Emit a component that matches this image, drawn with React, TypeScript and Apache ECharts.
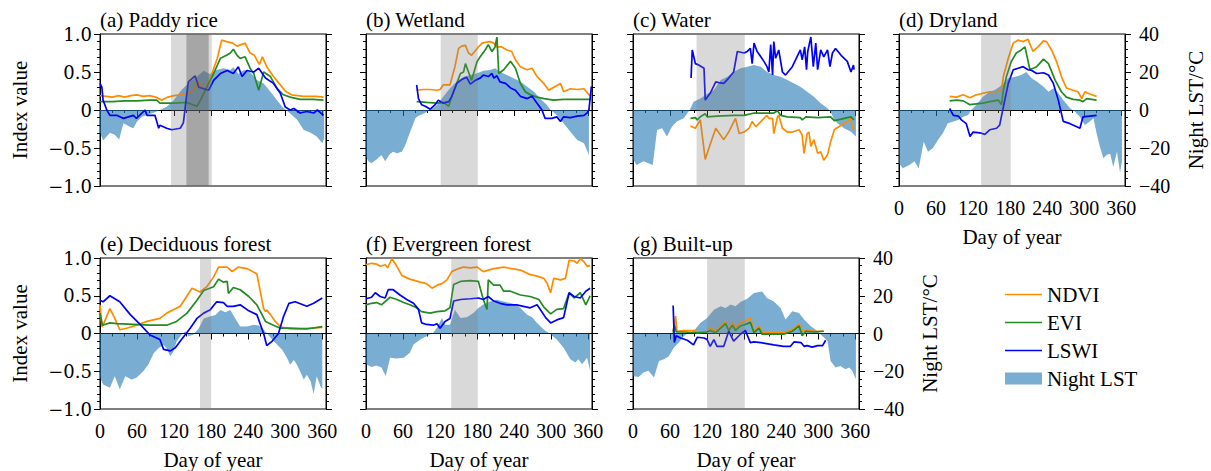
import React, { useEffect, useRef } from "react";
import * as echarts from "echarts";

// ---------- data (day of year, value) ----------
const paddyLst = [[0,-12],[5,-16],[16,-12],[24,-13],[31,-15.5],[38,-7],[49,-9],[54,-9.6],[60,-6],[68,-3.5],[76,-2.6],[87,-1.5],[97,0],[108,1.7],[119,5],[132,10.5],[146,15],[157,17.5],[168,20.7],[178,19],[189,21],[200,22],[211,21],[216,22.5],[224,19],[233,21],[243,20],[254,15.8],[265,14],[276,9.6],[287,5],[297,1],[308,-1.8],[319,-5],[330,-10.5],[341,-12],[351,-14],[360,-17.5],[363,-15]];
const paddyNdvi = [[0,0.19],[10,0.18],[20,0.17],[30,0.19],[40,0.17],[50,0.19],[60,0.2],[70,0.18],[80,0.19],[90,0.17],[100,0.13],[105,0.15],[110,0.17],[120,0.19],[130,0.2],[140,0.22],[150,0.25],[160,0.38],[165,0.3],[170,0.28],[180,0.45],[190,0.68],[197,0.92],[205,0.9],[215,0.88],[222,0.84],[235,0.88],[243,0.75],[250,0.72],[258,0.6],[263,0.7],[270,0.57],[280,0.45],[290,0.35],[300,0.25],[310,0.2],[330,0.18],[350,0.18],[362,0.17]];
const paddyEvi = [[0,0.11],[20,0.11],[40,0.12],[60,0.12],[80,0.13],[92,0.13],[97,0.09],[120,0.09],[140,0.1],[157,0.05],[162,0.12],[173,0.3],[184,0.48],[195,0.68],[205,0.72],[211,0.75],[216,0.8],[222,0.72],[227,0.68],[235,0.7],[243,0.55],[249,0.48],[257,0.26],[265,0.5],[276,0.44],[287,0.28],[297,0.2],[308,0.17],[324,0.14],[345,0.14],[362,0.13]];
const paddyLswi = [[0,0.35],[3,0.3],[5,0.13],[11,0],[16,-0.07],[27,-0.07],[38,-0.11],[46,-0.09],[54,-0.07],[59,-0.11],[73,0],[76,-0.07],[89,-0.07],[95,-0.24],[97,-0.2],[108,-0.24],[116,-0.26],[130,-0.24],[135,-0.17],[143,0.37],[154,0.45],[160,0.3],[168,0.28],[176,0.26],[184,0.39],[195,0.48],[206,0.52],[216,0.48],[224,0.57],[230,0.44],[238,0.52],[249,0.5],[257,0.55],[268,0.42],[281,0.35],[292,0.22],[300,0.04],[308,0],[314,0.02],[324,-0.04],[335,-0.02],[346,-0.04],[352,0],[362,-0.07]];
const paddyBands = [[115,181,0],[140,176,1]];

const wetlandLst = [[0,-24.6],[4,-27],[9,-28],[17,-26],[25,-23.7],[31,-27],[39,-23],[44,-22],[50,-22.8],[58,-22],[63,-19],[71,-12],[80,-4.4],[85,-3],[93,-2],[104,0],[115,2.6],[125,7],[136,11.4],[147,15],[158,17.5],[169,18.4],[180,19.3],[190,20.7],[201,21],[209,22],[217,20],[228,18.4],[239,16.7],[250,15],[261,12.3],[272,9.6],[282,6],[293,2.6],[299,0],[309,-2.6],[320,-7],[331,-11.4],[342,-15.8],[353,-17.5],[361,-23.7]];
const wetlandNdvi = [[82,0.26],[93,0.27],[104,0.27],[115,0.26],[120,0.27],[125,0.33],[136,0.33],[144,0.57],[150,0.81],[155,0.84],[161,0.85],[166,0.75],[171,0.72],[180,0.81],[188,0.88],[193,0.89],[201,0.9],[207,0.88],[212,0.83],[220,0.83],[228,0.79],[236,0.77],[242,0.66],[250,0.57],[261,0.53],[269,0.55],[277,0.44],[288,0.35],[296,0.26],[304,0.3],[315,0.35],[320,0.24],[331,0.28],[342,0.27],[353,0.28],[361,0.2],[365,0.18]];
const wetlandEvi = [[82,0.11],[98,0.1],[115,0.09],[125,0.1],[134,0.05],[139,0.18],[144,0.29],[153,0.48],[158,0.5],[161,0.61],[166,0.5],[171,0.39],[180,0.64],[185,0.7],[193,0.79],[198,0.86],[204,0.77],[209,0.83],[212,0.96],[215,0.48],[223,0.53],[234,0.64],[242,0.55],[250,0.35],[258,0.24],[266,0.2],[277,0.17],[288,0.15],[304,0.13],[320,0.14],[331,0.14],[353,0.14],[365,0.14]];
const wetlandLswi = [[82,0.33],[85,0.15],[90,0.07],[96,0.05],[104,0.01],[112,0.07],[117,0.13],[125,0.09],[134,0.11],[139,0.18],[147,0.35],[155,0.4],[163,0.43],[169,0.34],[177,0.39],[185,0.42],[190,0.46],[198,0.44],[204,0.48],[207,0.42],[212,0.45],[217,0.37],[226,0.35],[234,0.29],[242,0.26],[250,0.18],[261,0.15],[269,0.18],[277,0.09],[285,0],[290,-0.11],[301,-0.11],[309,-0.09],[315,-0.15],[320,-0.09],[331,-0.1],[342,-0.08],[353,-0.07],[358,-0.04],[361,0],[365,0.31]];
const wetlandBands = [[121,181,0]];

const waterLst = [[0,-26],[6,-29],[17,-27],[32,-29],[39,-10.5],[47,-9.6],[55,-14],[63,-8.8],[71,-6],[82,-4.4],[92,0],[98,4.4],[109,6],[120,8.4],[131,10.5],[142,15.8],[153,17.5],[163,20],[174,22],[185,22.8],[196,23.7],[207,22.8],[217,20],[228,18.4],[239,17.5],[250,15.8],[261,14],[271,12.3],[282,9.6],[293,7],[304,3.5],[315,0.9],[320,-0.9],[326,-5.3],[331,-7],[342,-9.6],[353,-11.4],[361,-14]];
const waterNdvi = [[93,-0.21],[101,-0.24],[109,-0.13],[117,-0.65],[123,-0.5],[134,-0.24],[147,-0.39],[155,-0.29],[166,-0.11],[172,-0.31],[180,-0.29],[188,-0.24],[193,-0.15],[199,-0.22],[212,-0.11],[217,-0.07],[220,-0.11],[226,-0.11],[228,-0.31],[234,-0.09],[236,-0.07],[242,-0.24],[250,-0.29],[258,-0.29],[269,-0.26],[274,-0.33],[277,-0.57],[282,-0.31],[285,-0.29],[288,-0.48],[293,-0.39],[299,-0.57],[304,-0.55],[309,-0.66],[315,-0.59],[320,-0.42],[326,-0.26],[337,-0.2],[347,-0.15],[353,-0.11],[355,-0.24],[358,-0.25]];
const waterEvi = [[93,-0.11],[101,-0.1],[104,-0.13],[109,-0.09],[117,-0.05],[120,-0.09],[136,-0.08],[163,-0.07],[180,-0.07],[196,-0.04],[217,-0.04],[228,-0.04],[234,-0.01],[239,-0.07],[250,-0.09],[271,-0.1],[274,-0.13],[280,-0.09],[299,-0.1],[320,-0.09],[326,-0.14],[337,-0.12],[347,-0.1],[353,-0.09],[358,-0.13]];
const waterLswi = [[94,0.42],[96,0.79],[101,0.61],[107,0.59],[115,0.55],[117,0.13],[125,0.22],[134,0.37],[139,0.36],[147,0.35],[155,0.42],[163,0.5],[169,0.77],[180,0.75],[185,0.77],[190,0.81],[193,0.61],[196,0.88],[201,0.77],[207,0.7],[212,0.64],[217,0.57],[220,0.5],[223,0.86],[226,0.46],[228,0.9],[231,0.68],[236,0.79],[242,0.5],[247,0.46],[258,0.57],[271,0.79],[274,0.66],[278,0.83],[281,0.53],[283,0.77],[288,0.96],[292,0.57],[296,0.88],[299,0.53],[304,0.79],[309,0.7],[315,0.79],[319,0.57],[323,0.75],[328,0.81],[337,0.72],[347,0.64],[353,0.5],[357,0.59],[358,0.53]];
const waterBands = [[103,181,0]];

const drylandLst = [[0,-28],[6,-30.7],[17,-29],[25,-27],[32,-30.7],[40,-16.7],[47,-22],[55,-20],[63,-15.8],[71,-12.3],[79,-7],[88,-6],[96,-5.3],[104,-3.5],[112,-2.6],[117,0],[125,2.6],[136,7],[147,9.6],[155,10.5],[163,12.3],[169,14],[177,16.7],[188,17.5],[198,18.4],[206,20],[215,16.7],[223,15],[234,12.3],[242,9.6],[250,11.4],[258,8.8],[266,5.3],[277,0.9],[285,-0.9],[293,-3.5],[301,-7.9],[309,-6],[315,-4.4],[320,-12.3],[325,-19],[331,-25.4],[336,-23.7],[342,-23],[347,-30],[353,-22],[358,-33],[361,-27]];
const drylandNdvi = [[82,0.18],[93,0.17],[104,0.2],[115,0.16],[125,0.2],[136,0.22],[147,0.24],[158,0.24],[166,0.26],[169,0.44],[177,0.68],[185,0.88],[193,0.92],[201,0.9],[209,0.93],[217,0.77],[225,0.83],[234,0.91],[239,0.9],[247,0.79],[255,0.64],[263,0.44],[271,0.29],[282,0.26],[290,0.24],[296,0.15],[301,0.24],[309,0.21],[320,0.18]];
const drylandEvi = [[82,0.12],[93,0.13],[104,0.12],[115,0.07],[125,0.08],[136,0.09],[147,0.11],[161,0.13],[166,0.07],[169,0.26],[174,0.44],[182,0.64],[190,0.75],[198,0.79],[204,0.83],[212,0.53],[223,0.57],[234,0.67],[242,0.61],[253,0.39],[263,0.24],[271,0.17],[282,0.14],[293,0.13],[298,0.11],[304,0.15],[320,0.13]];
const drylandLswi = [[82,0.02],[88,-0.07],[96,-0.08],[101,-0.13],[109,-0.18],[115,-0.35],[120,-0.29],[131,-0.3],[139,-0.32],[147,-0.26],[158,-0.24],[163,-0.2],[169,0.04],[177,0.35],[185,0.53],[193,0.55],[201,0.57],[209,0.53],[215,0.52],[223,0.48],[234,0.49],[242,0.46],[250,0.35],[258,0.13],[266,-0.15],[277,-0.18],[288,-0.22],[293,-0.24],[298,-0.09],[309,-0.08],[320,-0.07]];
const drylandBands = [[133,181,0]];

const decidLst = [[0,-23.5],[5,-27],[16,-28.8],[24,-22.6],[32,-29.6],[41,-22.6],[51,-24.4],[59,-23.5],[70,-20],[78,-16.5],[87,-10.4],[95,-7.7],[103,-6],[108,-8],[114,-12],[119,-9.5],[124,-4.2],[132,-0.7],[138,1],[143,-1.5],[151,-0.7],[160,2.8],[168,8],[178,9],[187,9.8],[195,12.5],[203,11.2],[211,12.5],[219,8],[227,3.7],[238,3.7],[249,4.6],[257,4.2],[265,2],[270,0.2],[279,-3.3],[287,-6],[295,-8.6],[303,-13],[308,-16.5],[314,-14],[319,-16.5],[324,-20],[330,-24.4],[335,-21.8],[341,-25.3],[346,-32],[351,-22.6],[357,-28],[360,-29.6]];
const decidNdvi = [[0,0.38],[3,0.09],[5,0.11],[16,0.33],[24,0.2],[32,0.05],[43,0.07],[59,0.11],[76,0.16],[97,0.2],[108,0.27],[130,0.36],[149,0.6],[162,0.55],[173,0.62],[184,0.75],[192,0.88],[206,0.88],[214,0.82],[224,0.88],[238,0.86],[254,0.79],[265,0.33],[268,0.29],[270,0.31],[276,0.25],[284,0.16],[292,0.09],[308,0.06],[324,0.06],[341,0.07],[360,0.08]];
const decidEvi = [[0,0.27],[4,0.11],[8,0.12],[16,0.14],[27,0.13],[54,0.12],[81,0.11],[108,0.11],[124,0.16],[141,0.27],[157,0.44],[168,0.57],[184,0.62],[192,0.72],[200,0.68],[206,0.69],[208,0.53],[216,0.61],[227,0.58],[241,0.49],[254,0.38],[268,0.16],[281,0.11],[292,0.07],[308,0.07],[335,0.06],[360,0.09]];
const decidLswi = [[0,0.44],[5,0.42],[16,0.5],[32,0.42],[49,0.25],[65,0.12],[81,-0.02],[97,-0.08],[103,-0.21],[114,-0.23],[122,-0.19],[132,-0.08],[146,0.07],[157,0.2],[168,0.27],[178,0.31],[189,0.42],[200,0.41],[206,0.36],[216,0.36],[227,0.38],[241,0.3],[254,0.25],[265,0],[270,-0.16],[279,-0.1],[289,0],[297,0.22],[306,0.4],[316,0.42],[335,0.36],[346,0.4],[360,0.47]];
const decidBands = [[162,180,0]];

const evergLst = [[0,-16.3],[9,-17.7],[17,-17],[25,-18],[32,-22.5],[39,-12.8],[50,-13.3],[61,-12.8],[71,-10.2],[77,-5.8],[88,-3.2],[98,-1.4],[109,0.4],[115,3],[123,8.2],[128,4.7],[136,4.7],[144,12.6],[153,8.2],[163,8.6],[174,10.9],[182,13.5],[190,15.3],[201,17],[212,17.9],[223,17],[234,16.1],[242,15.3],[250,13.5],[261,10],[269,8.6],[277,5.6],[288,2.1],[299,-0.5],[309,-3.2],[320,-7.5],[331,-13.7],[339,-15.4],[344,-13.7],[350,-16.3],[358,-12.8],[363,-19.8]];
const evergNdvi = [[0,0.91],[9,0.93],[17,0.92],[23,0.89],[31,0.91],[35,0.87],[42,0.99],[50,0.89],[58,0.77],[71,0.72],[88,0.68],[98,0.66],[107,0.6],[115,0.64],[123,0.66],[131,0.71],[139,0.82],[150,0.86],[158,0.88],[169,0.87],[180,0.88],[190,0.82],[198,0.84],[207,0.86],[223,0.88],[236,0.86],[250,0.84],[266,0.78],[277,0.76],[288,0.73],[293,0.67],[299,0.54],[304,0.73],[315,0.71],[323,0.73],[329,0.97],[337,0.96],[342,0.93],[347,0.99],[353,0.95],[358,0.89],[363,0.9]];
const evergEvi = [[0,0.38],[9,0.4],[17,0.41],[25,0.38],[39,0.48],[50,0.45],[61,0.41],[71,0.38],[82,0.34],[90,0.29],[104,0.27],[115,0.29],[128,0.3],[136,0.34],[142,0.65],[153,0.69],[169,0.7],[182,0.69],[190,0.45],[196,0.32],[198,0.71],[207,0.64],[217,0.64],[223,0.56],[234,0.56],[250,0.51],[266,0.49],[280,0.45],[288,0.35],[299,0.26],[309,0.32],[320,0.33],[329,0.54],[337,0.47],[347,0.54],[356,0.38],[363,0.5]];
const evergLswi = [[0,0.46],[9,0.48],[15,0.54],[23,0.49],[31,0.47],[36,0.58],[44,0.58],[55,0.51],[66,0.45],[77,0.4],[85,0.32],[90,0.14],[98,0.12],[109,0.11],[115,0.13],[120,0.07],[128,0.16],[136,0.2],[142,0.43],[153,0.45],[169,0.46],[182,0.47],[190,0.45],[198,0.49],[207,0.43],[217,0.4],[228,0.38],[244,0.38],[255,0.36],[266,0.34],[277,0.38],[282,0.32],[291,0.21],[299,0.14],[309,0.18],[320,0.21],[329,0.54],[337,0.49],[347,0.47],[356,0.56],[363,0.6]];
const evergBands = [[138,181,0]];

const builtLst = [[0,-22.5],[9,-23],[17,-20.7],[25,-19.8],[34,-23.3],[42,-14.6],[50,-13.7],[58,-12],[66,-7.5],[74,-4.9],[82,-1.4],[90,0.4],[98,1.2],[109,5.6],[120,8.2],[131,12.6],[142,14.4],[150,13.5],[158,15.3],[166,14.4],[174,16.7],[185,18.4],[196,21.4],[209,22.3],[217,18.8],[228,17],[239,13.5],[247,7.4],[258,11.8],[269,10.9],[277,7.4],[288,3.9],[299,1.2],[307,-1.4],[315,-4],[320,-14.6],[328,-18],[336,-17.2],[344,-19],[350,-18],[355,-19.8],[361,-24.2]];
const builtNdvi = [[65,0.03],[69,0.23],[71,0.03],[82,0.04],[101,0.04],[104,0.01],[120,0.02],[125,0.08],[134,0.02],[142,0.1],[150,0.16],[155,0.05],[161,0.14],[166,0.07],[174,0.14],[185,0.18],[190,0.21],[196,0.02],[204,0.1],[209,0.01],[244,0.01],[258,0.05],[269,0.12],[274,0.03],[280,0.05],[293,0.03],[309,0.03]];
const builtEvi = [[65,0.01],[67,0.12],[70,0.02],[82,0.02],[104,0.01],[120,0.02],[125,0.04],[134,0.01],[142,0.07],[150,0.13],[155,0.04],[161,0.11],[166,0.04],[174,0.1],[185,0.13],[190,0.15],[196,0.01],[204,0.07],[209,-0.01],[244,-0.01],[258,0.03],[269,0.1],[274,-0.03],[280,0.03],[293,0.02],[309,0.03]];
const builtLswi = [[65,0.37],[67,-0.12],[70,-0.03],[77,-0.06],[88,-0.09],[98,-0.15],[104,-0.05],[115,-0.06],[120,-0.08],[125,-0.17],[131,-0.08],[136,-0.17],[147,-0.17],[155,0.03],[163,-0.1],[174,-0.01],[182,0.04],[190,-0.12],[196,-0.11],[207,-0.12],[228,-0.15],[244,-0.17],[255,-0.17],[261,-0.11],[272,-0.12],[277,-0.17],[282,-0.16],[290,-0.18],[299,-0.16],[307,-0.16],[312,-0.09]];
const builtBands = [[120,181,0]];

const titles = ["(a) Paddy rice", "(b) Wetland", "(c) Water", "(d) Dryland", "(e) Deciduous forest", "(f) Evergreen forest", "(g) Built-up"];
const seriesNames = ["NDVI", "EVI", "LSWI", "Night LST"];

// ---------- styling / layout ----------
const FONT = "'Liberation Serif', 'Times New Roman', serif";
const FONT_Y = "'DejaVu Serif', serif";
const C_NDVI = "#ff8c00";
const C_EVI = "#228b22";
const C_LSWI = "#0000ff";
const C_LST = "rgba(31,119,180,0.6)";
const BAND_LIGHT = "rgba(128,128,128,0.3)";
const BAND_DARK = "rgba(90,90,90,0.4)";
const LINE_ICON = "path://M0,0L40,0L40,1.8L0,1.8Z";

const panels = [
  { lst: paddyLst, ndvi: paddyNdvi, evi: paddyEvi, lswi: paddyLswi, bands: paddyBands, left: 100, top: 34, yl: true, yr: false, xl: false },
  { lst: wetlandLst, ndvi: wetlandNdvi, evi: wetlandEvi, lswi: wetlandLswi, bands: wetlandBands, left: 366, top: 34, yl: false, yr: false, xl: false },
  { lst: waterLst, ndvi: waterNdvi, evi: waterEvi, lswi: waterLswi, bands: waterBands, left: 633, top: 34, yl: false, yr: false, xl: false },
  { lst: drylandLst, ndvi: drylandNdvi, evi: drylandEvi, lswi: drylandLswi, bands: drylandBands, left: 899, top: 34, yl: false, yr: true, xl: true },
  { lst: decidLst, ndvi: decidNdvi, evi: decidEvi, lswi: decidLswi, bands: decidBands, left: 100, top: 258, yl: true, yr: false, xl: true },
  { lst: evergLst, ndvi: evergNdvi, evi: evergEvi, lswi: evergLswi, bands: evergBands, left: 366, top: 258, yl: false, yr: false, xl: true },
  { lst: builtLst, ndvi: builtNdvi, evi: builtEvi, lswi: builtLswi, bands: builtBands, left: 633, top: 258, yl: false, yr: true, xl: true },
];

const W = 226;
const H = 152;

const minus = (s: string) => s.replace("-", "\u2212");

function buildOption() {
  const grid: any[] = [];
  const xAxis: any[] = [];
  const yAxis: any[] = [];
  const series: any[] = [];
  const title: any[] = [];
  const txt = { fontFamily: FONT, color: "#000" };
  panels.forEach((p, i) => {
    grid.push({ left: p.left, top: p.top, width: W, height: H, show: true, borderColor: "#000", borderWidth: 1, backgroundColor: "transparent" });
    title.push({ text: titles[i], left: p.left, top: p.top - 25, padding: 0, textStyle: { ...txt, fontSize: 21, fontWeight: "normal" } });
    xAxis.push({
      gridIndex: i, type: "value", min: 0, max: 366, interval: 60,
      axisLine: { show: true, lineStyle: { color: "#000", width: 1 } },
      axisTick: { show: true, length: 6, lineStyle: { color: "#000" } },
      minorTick: { show: true, splitNumber: 3, length: 3, lineStyle: { color: "#000" } },
      splitLine: { show: false },
      axisLabel: { show: p.xl, ...txt, fontSize: 20, margin: 12, showMaxLabel: false, formatter: (v: number) => (v % 60 === 0 ? String(v) : "") },
      name: p.xl ? "Day of year" : "", nameLocation: "middle", nameGap: 40,
      nameTextStyle: { ...txt, fontSize: 21 },
    });
    yAxis.push({
      gridIndex: i, type: "value", min: -1, max: 1, interval: 0.5, position: "left",
      axisLine: { show: true, onZero: false, lineStyle: { color: "#000", width: 1 } },
      axisTick: { show: true, length: 6, lineStyle: { color: "#000" } },
      minorTick: { show: true, splitNumber: 5, length: 3, lineStyle: { color: "#000" } },
      splitLine: { show: false },
      axisLabel: { show: p.yl, fontFamily: FONT_Y, color: "#000", fontSize: 18, margin: 8, formatter: (v: number) => (v === 0 ? "0" : minus(v.toFixed(1))) },
      name: p.yl ? "Index value" : "", nameLocation: "middle", nameRotate: 90, nameGap: 70,
      nameTextStyle: { ...txt, fontSize: 21 },
    });
    yAxis.push({
      gridIndex: i, type: "value", min: -40, max: 40, interval: 20, position: "right",
      axisLine: { show: true, onZero: false, lineStyle: { color: "#000", width: 1 } },
      axisTick: { show: true, length: 6, lineStyle: { color: "#000" } },
      minorTick: { show: true, splitNumber: 5, length: 3, lineStyle: { color: "#000" } },
      splitLine: { show: false },
      axisLabel: { show: p.yr, ...txt, fontSize: 20, margin: 14, formatter: (v: number) => minus(String(v)) },
      name: p.yr ? "Night LST/\u00B0C" : "", nameLocation: "middle", nameRotate: 90, nameGap: 60,
      nameTextStyle: { ...txt, fontSize: 21 },
    });
    series.push({
      type: "line", name: seriesNames[3], xAxisIndex: i, yAxisIndex: 2 * i + 1, data: p.lst,
      symbol: "none", showSymbol: false, lineStyle: { width: 0 }, itemStyle: { color: C_LST },
      areaStyle: { color: C_LST, opacity: 1 }, z: 1, silent: true,
    });
    const lines: [string, number[][], string][] = [[seriesNames[0], p.ndvi, C_NDVI], [seriesNames[1], p.evi, C_EVI], [seriesNames[2], p.lswi, C_LSWI]];
    lines.forEach(([name, data, color]) => {
      series.push({
        type: "line", name, xAxisIndex: i, yAxisIndex: 2 * i, data,
        symbol: "none", showSymbol: false, lineStyle: { width: 1.7, color }, itemStyle: { color }, z: 3, silent: true,
      });
    });
    series.push({
      type: "custom", xAxisIndex: i, yAxisIndex: 2 * i, data: p.bands, z: 5, silent: true,
      renderItem: (params: any, api: any) => {
        const a = api.coord([api.value(0), 1]);
        const b = api.coord([api.value(1), -1]);
        return {
          type: "rect",
          shape: { x: a[0], y: a[1], width: b[0] - a[0], height: b[1] - a[1] },
          style: { fill: api.value(2) === 1 ? BAND_DARK : BAND_LIGHT },
        };
      },
    });
  });
  return {
    animation: false,
    backgroundColor: "#fff",
    textStyle: { fontFamily: FONT },
    title,
    grid,
    xAxis,
    yAxis,
    series,
    legend: {
      data: [
        { name: "NDVI", icon: LINE_ICON },
        { name: "EVI", icon: LINE_ICON },
        { name: "LSWI", icon: LINE_ICON },
        { name: "Night LST", icon: "rect" },
      ],
      orient: "vertical", left: 1000, top: 279, itemWidth: 37, itemHeight: 12, itemGap: 7,
      selectedMode: false, textStyle: { ...txt, fontSize: 21 },
    },
  };
}

export default function App() {
  const ref = useRef<HTMLDivElement>(null);
  useEffect(() => {
    if (!ref.current) return;
    const chart = echarts.init(ref.current, null, { renderer: "svg" });
    chart.setOption(buildOption() as any);
    return () => chart.dispose();
  }, []);
  return <div ref={ref} style={{ position: "absolute", left: 0, top: 0, width: 1211, height: 471 }} />;
}
